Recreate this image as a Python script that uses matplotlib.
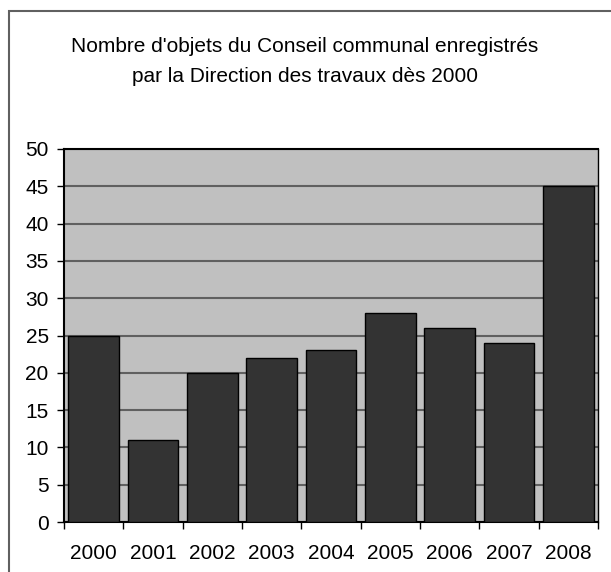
import matplotlib
matplotlib.use("Agg")
import matplotlib.pyplot as plt
from matplotlib.patches import Rectangle

# Data
years = ["2000", "2001", "2002", "2003", "2004", "2005", "2006", "2007", "2008"]
counts = [25, 11, 20, 22, 23, 28, 26, 24, 45]
yticks = [0, 5, 10, 15, 20, 25, 30, 35, 40, 45, 50]

plt.rcParams['font.family'] = ['Liberation Sans', 'DejaVu Sans']

W, H = 611, 572
fig = plt.figure(figsize=(W / 100, H / 100), dpi=100)

# outer frame of the chart object (right/bottom edges fall outside the image)
fig.patches.append(Rectangle((9 / W, -0.1), 1.2, 1.1 - 11 / H, transform=fig.transFigure,
                             fill=False, edgecolor='#606060', linewidth=1.5))

# plot area in pixels: left 64, right 598, top 149, bottom 522
ax = fig.add_axes([64 / W, 1 - 522 / H, (598 - 64) / W, (522 - 149) / H])
ax.set_facecolor('#C0C0C0')

x = list(range(len(years)))
ax.bar(x, counts, width=0.85, color='#333333', edgecolor='black', linewidth=1, zorder=3)

ax.set_xlim(-0.5, len(years) - 0.5)
ax.set_ylim(0, 50)
ax.set_yticks(yticks)
ax.yaxis.grid(True, color='#606060', linewidth=1.5, zorder=1)
ax.set_axisbelow(True)

# x ticks sit on category boundaries, labels in the middle
ax.set_xticks([i - 0.5 for i in range(len(years) + 1)])
ax.set_xticklabels([])
ax.set_xticks(x, minor=True)
ax.set_xticklabels(years, minor=True)
ax.tick_params(axis='x', which='minor', length=0, pad=16, labelsize=15)
ax.tick_params(axis='x', which='major', length=5, width=1, direction='out')
ax.tick_params(axis='y', length=5, width=1, direction='out', labelsize=15, pad=6)

for side in ['left', 'bottom', 'top', 'right']:
    ax.spines[side].set_color('black')
    ax.spines[side].set_linewidth(1.5)
ax.spines['right'].set_linewidth(1)

fig.text(305 / W, 1 - 47 / H, "Nombre d'objets du Conseil communal enregistrés",
         ha='center', va='center', fontsize=15)
fig.text(305 / W, 1 - 76 / H, "par la Direction des travaux dès 2000",
         ha='center', va='center', fontsize=15)

fig.savefig("out.png", dpi=100)
